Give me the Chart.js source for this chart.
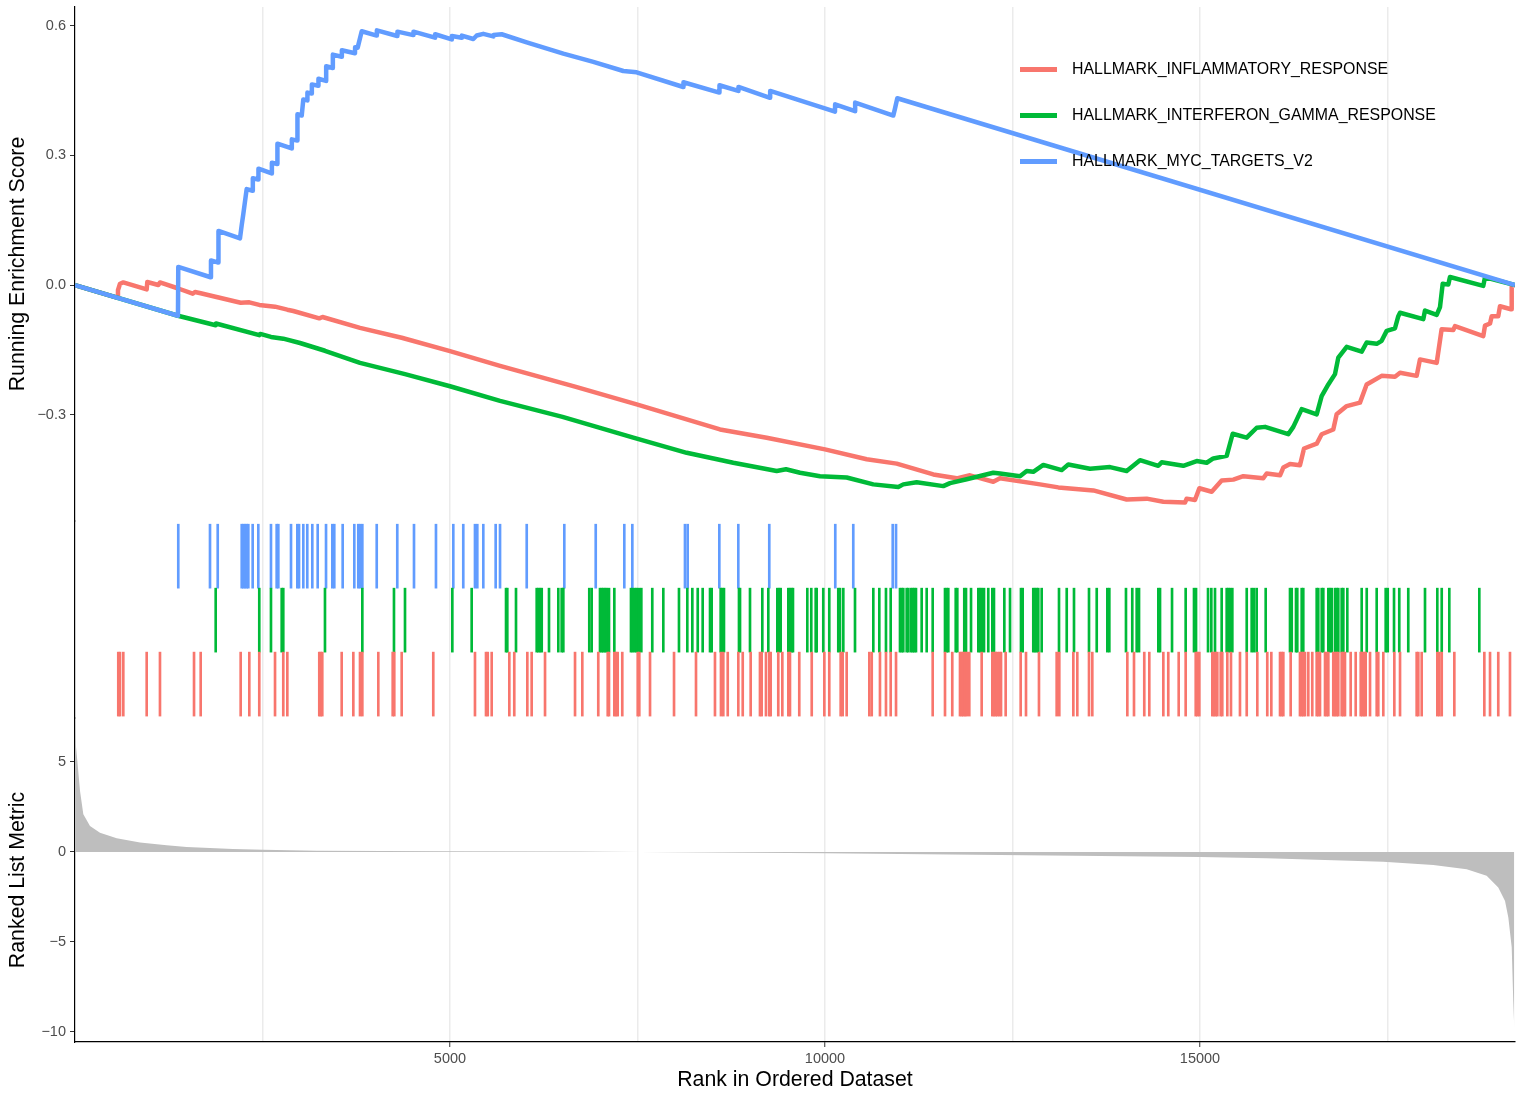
<!DOCTYPE html>
<html><head><meta charset="utf-8">
<script src="https://cdn.jsdelivr.net/npm/chart.js@4.4.1/dist/chart.umd.min.js"></script>
<style>
html,body{margin:0;padding:0;background:#fff;overflow:hidden}
#wrap{position:relative;width:1523px;height:1095px}
#legend{position:absolute;left:1020px;top:46px;font-family:"Liberation Sans",Arial,sans-serif;font-size:15.9px;color:#000}
.item{display:flex;align-items:center;height:46px;white-space:nowrap}
.swatch{width:37px;height:5px;margin-right:15px}
</style></head><body>
<div id="wrap"><canvas id="c" width="1523" height="1095"></canvas><div id="legend"></div></div>
<script>
// ---------- data ----------
const seriesNames = ["HALLMARK_INFLAMMATORY_RESPONSE", "HALLMARK_INTERFERON_GAMMA_RESPONSE", "HALLMARK_MYC_TARGETS_V2"];
const seriesColors = ["#F8766D", "#00BA38", "#619CFF"];
const rankMax = 19200;

const xTickValues = [5000, 10000, 15000];
const xTickLabels = ["5000", "10000", "15000"];
const xGridValues = [0, 2500, 5000, 7500, 10000, 12500, 15000, 17500];
const esTickValues = [-0.3, 0, 0.3, 0.6];
const esTickLabels = ["\u22120.3", "0.0", "0.3", "0.6"];
const metricTickValues = [-10, -5, 0, 5];
const metricTickLabels = ["\u221210", "\u22125", "0", "5"];

// running enrichment score: [rank, score]
const esInflammatory = [[0,0],[560,-0.029],[573,-0.012],[600,0.003],[644,0.006],[956,-0.010],[964,0.007],[1111,0.000],[1133,0.006],[1377,-0.008],[1569,-0.020],[1600,-0.016],[1676,-0.019],[2209,-0.041],[2324,-0.040],[2457,-0.046],[2667,-0.050],[2831,-0.057],[2911,-0.060],[3257,-0.077],[3300,-0.074],[3800,-0.099],[4356,-0.122],[5000,-0.153],[5667,-0.187],[6667,-0.235],[7489,-0.276],[8600,-0.334],[9222,-0.353],[10000,-0.380],[10556,-0.403],[10956,-0.413],[11444,-0.438],[11756,-0.447],[11933,-0.440],[12244,-0.455],[12333,-0.447],[12867,-0.461],[13111,-0.468],[13578,-0.475],[14022,-0.496],[14289,-0.494],[14511,-0.501],[14800,-0.503],[14822,-0.494],[14933,-0.497],[14991,-0.470],[15156,-0.478],[15289,-0.452],[15444,-0.450],[15578,-0.442],[15844,-0.447],[15889,-0.436],[16067,-0.440],[16111,-0.422],[16200,-0.414],[16333,-0.417],[16387,-0.378],[16556,-0.367],[16622,-0.345],[16777,-0.334],[16822,-0.299],[16956,-0.280],[17133,-0.272],[17222,-0.230],[17422,-0.210],[17600,-0.212],[17667,-0.203],[17889,-0.210],[17933,-0.172],[18156,-0.180],[18222,-0.102],[18377,-0.104],[18400,-0.095],[18777,-0.118],[18800,-0.094],[18867,-0.089],[18889,-0.072],[18977,-0.072],[19000,-0.049],[19147,-0.056],[19156,-0.002],[19200,0]];

const esInterferon = [[0,0],[1373,-0.071],[1876,-0.093],[1880,-0.089],[2457,-0.116],[2470,-0.113],[2613,-0.120],[2777,-0.124],[3000,-0.134],[3333,-0.152],[3800,-0.180],[4400,-0.206],[5000,-0.234],[5667,-0.268],[6500,-0.305],[7444,-0.353],[8156,-0.388],[8777,-0.411],[9356,-0.430],[9480,-0.426],[9667,-0.434],[9933,-0.442],[10289,-0.445],[10644,-0.461],[10977,-0.467],[11044,-0.461],[11222,-0.456],[11577,-0.465],[11667,-0.458],[11889,-0.449],[12244,-0.434],[12333,-0.436],[12600,-0.442],[12689,-0.430],[12777,-0.432],[12911,-0.416],[13156,-0.428],[13244,-0.415],[13533,-0.425],[13800,-0.421],[14022,-0.430],[14200,-0.405],[14444,-0.418],[14489,-0.410],[14777,-0.418],[14956,-0.407],[15089,-0.411],[15177,-0.401],[15356,-0.395],[15436,-0.344],[15622,-0.353],[15756,-0.330],[15867,-0.328],[16177,-0.345],[16244,-0.328],[16356,-0.287],[16556,-0.299],[16622,-0.257],[16711,-0.230],[16800,-0.206],[16844,-0.168],[16956,-0.143],[17156,-0.154],[17222,-0.133],[17356,-0.136],[17422,-0.129],[17489,-0.106],[17600,-0.100],[17644,-0.072],[17667,-0.064],[17977,-0.079],[18000,-0.059],[18156,-0.069],[18200,-0.051],[18236,0.003],[18311,0.001],[18333,0.0185],[18777,-0.002],[18800,0.018],[19200,0]];

const esMyc = [[0,0],[1373,-0.071],[1377,0.042],[1809,0.018],[1813,0.057],[1911,0.052],[1913,0.125],[2200,0.108],[2223,0.139],[2244,0.164],[2289,0.222],[2369,0.218],[2371,0.247],[2444,0.244],[2446,0.269],[2623,0.258],[2625,0.283],[2697,0.280],[2699,0.327],[2889,0.316],[2891,0.337],[2964,0.334],[2966,0.395],[3023,0.392],[3044,0.429],[3097,0.427],[3099,0.445],[3156,0.443],[3158,0.464],[3244,0.461],[3246,0.477],[3347,0.472],[3349,0.506],[3436,0.502],[3438,0.533],[3556,0.528],[3558,0.543],[3733,0.536],[3735,0.550],[3769,0.549],[3823,0.587],[4023,0.577],[4025,0.589],[4297,0.576],[4299,0.586],[4511,0.578],[4513,0.586],[4800,0.572],[4802,0.580],[5023,0.568],[5025,0.576],[5156,0.572],[5158,0.577],[5311,0.569],[5356,0.577],[5444,0.581],[5577,0.575],[5579,0.578],[5689,0.580],[6023,0.561],[6511,0.535],[6911,0.516],[7311,0.495],[7489,0.492],[8111,0.458],[8113,0.469],[8591,0.445],[8593,0.462],[8844,0.449],[8846,0.458],[9267,0.433],[9269,0.449],[10133,0.401],[10135,0.418],[10400,0.402],[10402,0.422],[10911,0.392],[10933,0.408],[10964,0.432],[19200,0]];

// gene hit positions (rank) for each set
const hitsInflammatory = [577,600,644,956,1133,1587,1676,2209,2324,2457,2667,2777,2831,3257,3276,3297,3556,3711,3800,3831,4044,4236,4257,4356,4777,5333,5480,5503,5556,5791,5857,6031,6089,6267,6667,6764,6977,7103,7120,7191,7213,7236,7297,7503,7524,7667,7987,8280,8533,8613,8644,8703,8844,8903,9009,9133,9156,9213,9257,9276,9377,9431,9511,9533,9657,9823,9991,10057,10209,10236,10289,10591,10623,10733,10813,10876,10947,11436,11600,11697,11800,11823,11844,11867,11889,11924,12089,12231,12253,12276,12297,12324,12347,12409,12609,12680,12853,13089,13124,13311,13364,13520,13564,14031,14120,14257,14324,14511,14577,14716,14809,14943,14964,14991,15164,15187,15209,15231,15276,15297,15364,15413,15533,15623,15764,15897,15951,16067,16089,16111,16209,16333,16356,16377,16400,16444,16497,16556,16577,16600,16667,16689,16711,16777,16800,16823,16844,16889,16911,16933,17009,17076,17143,17164,17187,17209,17267,17356,17377,17444,17591,17667,17889,17911,17956,18164,18191,18223,18391,18791,18867,18977,19133];

const hitsInterferon = [1876,2457,2613,2756,2777,3333,3831,4253,4400,5031,5289,5747,5764,5880,6156,6177,6200,6223,6320,6444,6489,6511,6857,6889,7000,7023,7044,7067,7089,7120,7191,7413,7436,7467,7489,7520,7551,7697,7844,8053,8164,8231,8303,8369,8467,8489,8609,8631,8653,8853,8867,9000,9164,9244,9364,9387,9409,9511,9533,9556,9573,9764,9817,9876,9889,9977,10057,10177,10200,10244,10400,10644,10724,10813,10876,11000,11023,11044,11089,11111,11147,11169,11191,11213,11289,11356,11436,11600,11623,11644,11743,11764,11857,11880,11947,12044,12067,12089,12120,12177,12231,12253,12391,12467,12613,12636,12777,12800,12823,12844,12889,13120,13223,13320,13520,13623,13764,13791,14013,14097,14156,14187,14444,14467,14627,14809,14920,14947,15107,15151,15200,15289,15356,15377,15400,15431,15623,15689,15720,15756,15876,16200,16223,16280,16297,16356,16377,16556,16577,16623,16644,16711,16733,16756,16800,16823,16844,16889,16911,16964,17156,17223,17356,17476,17503,17587,17657,17777,18000,18164,18223,18324,18724];

const hitsMyc = [1377,1800,1903,2223,2244,2267,2289,2311,2369,2444,2613,2689,2711,2880,2964,2987,3044,3097,3164,3236,3347,3431,3457,3569,3724,3777,3800,3831,4023,4297,4520,4813,5044,5177,5333,5364,5444,5609,5667,6023,6524,6943,7324,7431,8133,8169,8591,8844,9257,10137,10377,10903,10947];

// ranked list metric: [rank, metric]
const rankedMetric = [[0,7.3],[10,6.0],[31,5.06],[67,3.39],[111,2.09],[200,1.44],[333,1.07],[556,0.76],[867,0.52],[1222,0.37],[1489,0.27],[2107,0.16],[2507,0.12],[3222,0.07],[5000,0.04],[6733,0.02],[7533,0.0],[10000,-0.08],[11000,-0.11],[12333,-0.17],[13667,-0.22],[15000,-0.28],[15889,-0.35],[16556,-0.44],[17444,-0.54],[18111,-0.72],[18556,-0.96],[18822,-1.33],[18977,-1.98],[19067,-2.72],[19111,-3.65],[19156,-5.3],[19177,-8.3],[19190,-9.76]];

const titles = {x: "Rank in Ordered Dataset", es: "Running Enrichment Score", metric: "Ranked List Metric"};

// ---------- chart ----------
Chart.defaults.font.family = '"Liberation Sans", Arial, Helvetica, sans-serif';
const toXY = arr => arr.map(p => ({x: p[0], y: p[1]}));
const rugData = (ranks, row) => ranks.map(r => ({x: r, y: [row, row + 1]}));

const esSets = [esInflammatory, esInterferon, esMyc];
const hitSets = [hitsInflammatory, hitsInterferon, hitsMyc];

const datasets = [];
[2, 1, 0].forEach((i, k) => {
  datasets.push({
    type: 'line', label: seriesNames[i], data: toXY(esSets[i]), yAxisID: 'yES', xAxisID: 'x',
    borderColor: seriesColors[i], borderWidth: 4.5, pointRadius: 0, tension: 0,
    borderJoinStyle: 'round', borderCapStyle: 'butt', fill: false, order: k + 1
  });
});
hitSets.forEach((hits, i) => {
  datasets.push({
    type: 'bar', label: seriesNames[i] + ' hits', data: rugData(hits, i), yAxisID: 'yRug', xAxisID: 'x',
    backgroundColor: seriesColors[i], borderWidth: 0, barThickness: 2, grouped: false, order: 10 + i
  });
});
datasets.push({
  type: 'line', label: 'metric', data: toXY(rankedMetric), yAxisID: 'yMet', xAxisID: 'x',
  borderWidth: 0, borderColor: 'rgba(0,0,0,0)', backgroundColor: '#bebebe', pointRadius: 0,
  tension: 0, fill: 'origin', order: 20
});

const tickFont = {size: 14.5};
const titleFont = {size: 21.3};
const tickGray = '#4d4d4d';
const noPadY = ax => { ax.width = 75; ax.paddingTop = 0; ax.paddingBottom = 0; };

new Chart(document.getElementById('c'), {
  type: 'line',
  data: {datasets},
  options: {
    responsive: false, animation: false, devicePixelRatio: 1,
    layout: {padding: {top: 7, right: 8, left: 0, bottom: 0}},
    plugins: {legend: {display: false}, tooltip: {enabled: false}},
    scales: {
      x: {
        type: 'linear', position: 'bottom', min: 0, max: rankMax, offset: false,
        afterBuildTicks: ax => { ax.ticks = xGridValues.map(v => ({value: v})); },
        ticks: {autoSkip: false, maxRotation: 0, color: tickGray, font: tickFont, padding: 3,
          callback: v => { const j = xTickValues.indexOf(v); return j >= 0 ? xTickLabels[j] : ''; }},
        grid: {offset: false, lineWidth: 1.5, tickLength: 5, tickWidth: 1,
          color: c => (c.tick && c.tick.value === 0) ? 'rgba(0,0,0,0)' : '#ebebeb',
          tickColor: c => (c.tick && xTickValues.indexOf(c.tick.value) >= 0) ? '#333' : 'rgba(0,0,0,0)'},
        border: {display: true, color: '#000', width: 1.2},
        title: {display: true, text: titles.x, color: '#000', font: titleFont, padding: {top: 2, bottom: 2}},
        afterFit: ax => { ax.height = 53; ax.paddingLeft = 0; ax.paddingRight = 0; }
      },
      yES: {
        type: 'linear', position: 'left', stack: 'panels', stackWeight: 514, weight: 3,
        min: -0.5457, max: 0.643,
        afterBuildTicks: ax => { ax.ticks = esTickValues.map(v => ({value: v})); },
        ticks: {color: tickGray, font: tickFont, padding: 4, callback: (v, i) => esTickLabels[i]},
        grid: {drawOnChartArea: false, tickLength: 5, tickColor: '#333'},
        border: {display: true, color: '#000', width: 1.2},
        title: {display: true, text: titles.es, color: '#000', font: titleFont, padding: {top: 5, bottom: 0}},
        afterFit: noPadY
      },
      yRug: {
        type: 'linear', position: 'left', stack: 'panels', stackWeight: 197, weight: 2,
        min: -0.03, max: 3.05,
        ticks: {display: false},
        grid: {drawOnChartArea: false, drawTicks: false},
        border: {display: true, color: '#000', width: 1.2},
        afterFit: noPadY
      },
      yMet: {
        type: 'linear', position: 'left', stack: 'panels', stackWeight: 324, weight: 1,
        min: -10.56, max: 7.44,
        afterBuildTicks: ax => { ax.ticks = metricTickValues.map(v => ({value: v})); },
        ticks: {color: tickGray, font: tickFont, padding: 4, callback: (v, i) => metricTickLabels[i]},
        grid: {drawOnChartArea: false, tickLength: 5, tickColor: '#333'},
        border: {display: true, color: '#000', width: 1.2},
        title: {display: true, text: titles.metric, color: '#000', font: titleFont, padding: {top: 5, bottom: 0}},
        afterFit: noPadY
      }
    }
  }
});

// legend (real text)
const lg = document.getElementById('legend');
seriesNames.forEach((n, i) => {
  const it = document.createElement('div'); it.className = 'item';
  const sw = document.createElement('div'); sw.className = 'swatch'; sw.style.background = seriesColors[i];
  const tx = document.createElement('span'); tx.textContent = n;
  it.appendChild(sw); it.appendChild(tx); lg.appendChild(it);
});
</script>
</body></html>
